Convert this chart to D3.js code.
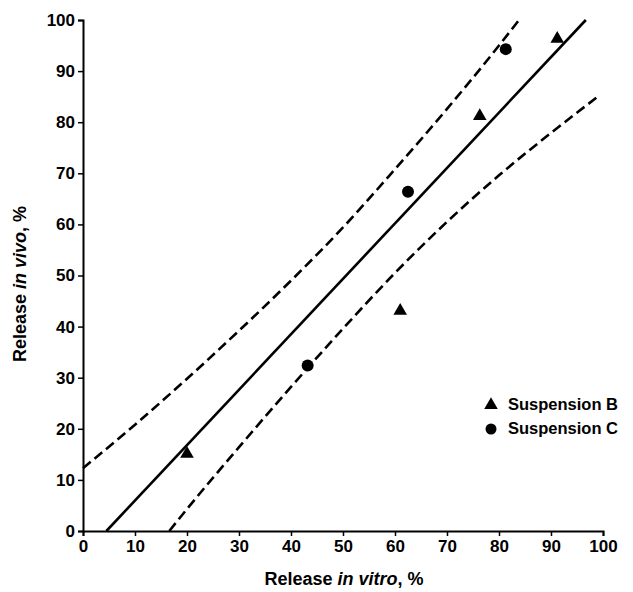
<!DOCTYPE html>
<html>
<head>
<meta charset="utf-8">
<script src="https://cdn.jsdelivr.net/npm/d3@7"></script>
<style>
  body { margin: 0; background: #fff; }
  text { font-family: "Liberation Sans", Arial, sans-serif; font-weight: bold; }
</style>
</head>
<body>
<svg id="chart" width="633" height="592"></svg>
<script>
const suspB = [[20, 15.3], [61, 43.3], [76.3, 81.4], [91.2, 96.5]];
const suspC = [[43.2, 32.4], [62.5, 66.4], [81.3, 94.3]];
const fitLine = [[4.5, 0], [96.7, 100]];
const upperBand = [[0, 12.3], [10, 20.8], [20, 29.8], [30, 39.2], [40, 49.0], [50, 59.4],
  [60, 70.8], [70, 82.6], [80, 95.0], [83.7, 99.8]];
const lowerBand = [[16.6, 0], [20, 4.3], [30, 16.4], [40, 28.2], [50, 39.6], [60, 50.5],
  [70, 60.5], [80, 69.6], [90, 77.9], [99, 85]];
const xTicks = [0, 10, 20, 30, 40, 50, 60, 70, 80, 90, 100];
const yTicks = [0, 10, 20, 30, 40, 50, 60, 70, 80, 90, 100];

const svg = d3.select('#chart');
const x = d3.scaleLinear().domain([0, 100]).range([83, 603]);
const y = d3.scaleLinear().domain([0, 100]).range([531, 20]);

// axes
let xAxis = svg.append('g')
  .attr('transform', 'translate(0,531)')
  .call(d3.axisBottom(x).tickValues(xTicks).tickSize(5).tickSizeOuter(5).tickPadding(4));
let yAxis = svg.append('g')
  .attr('transform', 'translate(83,0)')
  .call(d3.axisLeft(y).tickValues(yTicks).tickSize(5).tickSizeOuter(5).tickPadding(3));

[xAxis, yAxis].forEach(function(a) {
  a.select('.domain').attr('stroke', '#000').attr('stroke-width', 2);
  a.selectAll('.tick line').attr('stroke', '#000').attr('stroke-width', 1.5);
  a.selectAll('.tick text').attr('fill', '#000').style('font-size', '17px');
});

svg.append('text')
  .attr('x', 344).attr('y', 585)
  .attr('text-anchor', 'middle')
  .style('font-size', '18px')
  .html('Release <tspan font-style="italic">in vitro</tspan>, %');

svg.append('text')
  .attr('transform', 'translate(26,284) rotate(-90)')
  .attr('text-anchor', 'middle')
  .style('font-size', '18px')
  .html('Release <tspan font-style="italic">in vivo</tspan>, %');

// lines
let line = d3.line().x(d => x(d[0])).y(d => y(d[1]));
let curve = d3.line().x(d => x(d[0])).y(d => y(d[1])).curve(d3.curveMonotoneX);

svg.append('path')
  .attr('d', line(fitLine))
  .attr('fill', 'none').attr('stroke', '#000').attr('stroke-width', 2.6);

[upperBand, lowerBand].forEach(function(b) {
  svg.append('path')
    .attr('d', curve(b))
    .attr('fill', 'none').attr('stroke', '#000').attr('stroke-width', 2.6)
    .attr('stroke-dasharray', '10,5');
});

// points
let tri = d3.symbol().type(d3.symbolTriangle).size(80);
svg.selectAll('.ptB').data(suspB).enter().append('path')
  .attr('class', 'ptB')
  .attr('d', tri)
  .attr('transform', d => 'translate(' + x(d[0]) + ',' + (y(d[1]) + 1) + ')')
  .attr('fill', '#000');

svg.selectAll('.ptC').data(suspC).enter().append('circle')
  .attr('class', 'ptC')
  .attr('cx', d => x(d[0])).attr('cy', d => y(d[1]))
  .attr('r', 6).attr('fill', '#000');

// legend
let leg = svg.append('g');
leg.append('path').attr('d', tri).attr('transform', 'translate(491,405)').attr('fill', '#000');
leg.append('text').attr('x', 508).attr('y', 410).style('font-size', '16.5px').text('Suspension B');
leg.append('circle').attr('cx', 491).attr('cy', 429).attr('r', 5.5).attr('fill', '#000');
leg.append('text').attr('x', 508).attr('y', 434).style('font-size', '16.5px').text('Suspension C');
</script>
</body>
</html>
